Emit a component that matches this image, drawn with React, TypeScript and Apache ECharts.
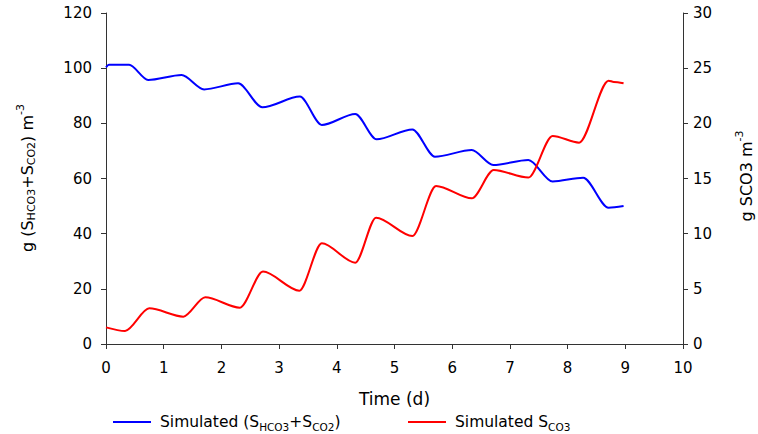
import React, { useEffect, useRef } from "react";
import * as echarts from "echarts";

const blueT = [0, 0.05, 0.4, 0.73, 1.31, 1.7, 2.29, 2.71, 3.36, 3.74, 4.32, 4.69, 5.31, 5.7, 6.34, 6.71, 7.32, 7.74, 8.27, 8.71, 8.97];
const blueV = [100.3, 101.2, 101.2, 95.7, 97.5, 92.3, 94.5, 85.8, 89.7, 79.4, 83.4, 74.2, 77.8, 67.9, 70.3, 64.9, 66.7, 58.9, 60.3, 49.4, 50.0];
const redT = [0, 0.33, 0.75, 1.34, 1.72, 2.32, 2.72, 3.35, 3.74, 4.32, 4.68, 5.31, 5.72, 6.34, 6.72, 7.32, 7.74, 8.2, 8.71, 8.8, 8.97];
const redV = [1.51, 1.18, 3.23, 2.48, 4.23, 3.29, 6.56, 4.83, 9.13, 7.37, 11.45, 9.79, 14.32, 13.2, 15.77, 15.08, 18.86, 18.25, 23.87, 23.75, 23.63];

const FONT = "DejaVu Sans";
const nameRich = {
  m: { fontSize: 16, fontFamily: FONT, fill: "#000", color: "#000" },
  s: { fontSize: 11, fontFamily: FONT, fill: "#000", color: "#000", padding: [9, 0, 0, 0] },
  p: { fontSize: 11, fontFamily: FONT, fill: "#000", color: "#000", padding: [0, 0, 13, 0] },
};
const legendRich = {
  m: { fontSize: 15.5, fontFamily: FONT, color: "#000" },
  s: { fontSize: 10.5, fontFamily: FONT, color: "#000", padding: [9, 0, 0, 0] },
};

export default function App() {
  const ref = useRef<HTMLDivElement>(null);
  useEffect(() => {
    const chart = echarts.init(ref.current!, null, { renderer: "svg" });
    const axisLine = { show: true, lineStyle: { color: "#333", width: 1 } };
    const axisLabel = { fontSize: 15, fontFamily: FONT, color: "#000" };
    const tick = { show: true, length: 5, lineStyle: { color: "#333" } };
    chart.setOption({
      animation: false,
      grid: { left: 106, right: 75, top: 13, bottom: 90 },
      graphic: [
        {
          type: "text",
          x: 27,
          y: 178,
          rotation: Math.PI / 2,
          style: {
            text: "{m|g (S}{s|HCO3}{m|+S}{s|CO2}{m|) m}{p|-3}",
            rich: nameRich,
            align: "center",
            verticalAlign: "middle",
            fill: "#000",
          },
        },
        {
          type: "text",
          x: 746,
          y: 176,
          rotation: Math.PI / 2,
          style: {
            text: "{m|g SCO3 m}{p|-3}",
            rich: nameRich,
            align: "center",
            verticalAlign: "middle",
            fill: "#000",
          },
        },
      ],
      xAxis: {
        type: "value",
        min: 0,
        max: 10,
        interval: 1,
        name: "Time (d)",
        nameLocation: "middle",
        nameGap: 46,
        nameTextStyle: { fontSize: 17, fontFamily: FONT, color: "#000" },
        axisLine,
        axisTick: tick,
        axisLabel: { ...axisLabel, margin: 16 },
        splitLine: { show: false },
      },
      yAxis: [
        {
          type: "value",
          min: 0,
          max: 120,
          interval: 20,
          position: "left",
          axisLine,
          axisTick: tick,
          axisLabel: { ...axisLabel, margin: 14 },
          splitLine: { show: false },
        },
        {
          type: "value",
          min: 0,
          max: 30,
          interval: 5,
          position: "right",
          axisLine,
          axisTick: tick,
          axisLabel: { ...axisLabel, margin: 10 },
          splitLine: { show: false },
        },
      ],
      legend: [
        {
          data: ["blue"],
          left: 113,
          top: 414,
          padding: 0,
          icon: "rect",
          itemWidth: 38,
          itemHeight: 2,
          formatter: () => "{m|Simulated (S}{s|HCO3}{m|+S}{s|CO2}{m|)}",
          textStyle: { rich: legendRich, padding: [0, 0, 0, 4] },
        },
        {
          data: ["red"],
          left: 408,
          top: 414,
          padding: 0,
          icon: "rect",
          itemWidth: 38,
          itemHeight: 2,
          formatter: () => "{m|Simulated S}{s|CO3}",
          textStyle: { rich: legendRich, padding: [0, 0, 0, 4] },
        },
      ],
      series: [
        {
          name: "blue",
          type: "line",
          yAxisIndex: 0,
          data: blueT.map((t, i) => [t, blueV[i]]),
          showSymbol: false,
          smooth: 0.3,
          smoothMonotone: "x",
          lineStyle: { color: "#0000ff", width: 2 },
          itemStyle: { color: "#0000ff" },
        },
        {
          name: "red",
          type: "line",
          yAxisIndex: 1,
          data: redT.map((t, i) => [t, redV[i]]),
          showSymbol: false,
          smooth: 0.3,
          smoothMonotone: "x",
          lineStyle: { color: "#ff0000", width: 2 },
          itemStyle: { color: "#ff0000" },
        },
      ],
    });
    return () => chart.dispose();
  }, []);
  return <div ref={ref} style={{ width: 758, height: 434, position: "absolute", left: 0, top: 0 }} />;
}
